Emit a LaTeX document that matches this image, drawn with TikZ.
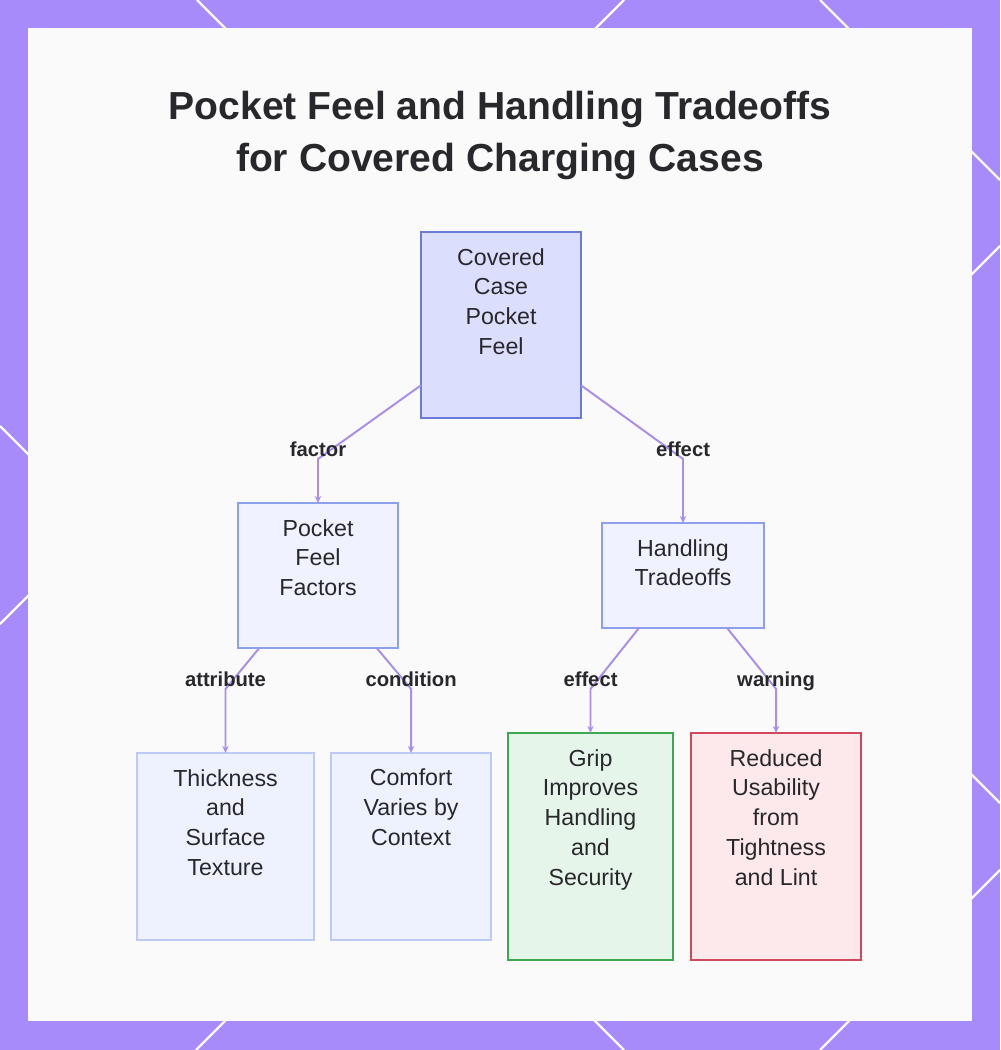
\documentclass[tikz,border=0pt]{standalone}
\usepackage{fontspec}
\setmainfont{Liberation Sans}
\usetikzlibrary{arrows.meta,positioning,calc}

\definecolor{frame}{RGB}{167,139,250}
\definecolor{panel}{RGB}{250,250,251}
\definecolor{ink}{RGB}{40,40,44}
\definecolor{linkc}{RGB}{170,142,236}
\definecolor{rootfill}{RGB}{219,223,253}
\definecolor{rootdraw}{RGB}{108,124,214}
\definecolor{midfill}{RGB}{240,243,255}
\definecolor{middraw}{RGB}{140,160,238}
\definecolor{leaffill}{RGB}{238,242,255}
\definecolor{leafdraw}{RGB}{190,202,245}
\definecolor{goodfill}{RGB}{230,245,233}
\definecolor{gooddraw}{RGB}{62,168,78}
\definecolor{badfill}{RGB}{253,232,235}
\definecolor{baddraw}{RGB}{208,72,92}

\begin{document}
\begin{tikzpicture}[
  x=0.025cm, y=-0.025cm,
  box/.style={draw, line width=1.4pt, inner sep=0pt, outer sep=0pt, minimum width=4cm},
  inside/.style={anchor=north, yshift=-8pt, align=center, text=ink, font=\fontsize{16.5}{21.3}\selectfont},
  link/.style={-{Stealth[length=5pt,width=4.5pt]}, line width=1.4pt, draw=linkc},
  lab/.style={anchor=base, yshift=1.5pt, text=ink, font=\fontsize{14.4}{16}\selectfont\bfseries},
  deco/.style={draw=white, line width=1.6pt}
]
\useasboundingbox (0,0) rectangle (1000,1050);

% frame with lattice lines
\fill[frame] (0,0) rectangle (1000,1050);
\begin{scope}
  \clip (0,0) rectangle (1000,1050);
  \foreach \xa/\ya/\xb/\yb in {197/0/1000/803, 624/0/0/624, 820/0/1000/180,
                               196/1050/1000/246, 624/1050/0/426, 820/1050/1000/870}
    \draw[deco] (\xa,\ya) -- (\xb,\yb);
\end{scope}
\fill[panel] (28,28) rectangle (972,1021);

\node[align=center, text=ink, font=\fontsize{27.8}{37}\selectfont\bfseries] (title) at (500,135)
  {Pocket Feel and Handling Tradeoffs\\for Covered Charging Cases};

% boxes
\node[box, fill=rootfill, draw=rootdraw, minimum height=4.65cm,
  label={[inside]north:Covered\\Case\\Pocket\\Feel}] (root) at (501,325) {};
\node[box, fill=midfill, draw=middraw, minimum height=3.625cm,
  label={[inside]north:Pocket\\Feel\\Factors}] (factors) at (318,575.5) {};
\node[box, fill=midfill, draw=middraw, minimum width=4.05cm, minimum height=2.625cm,
  label={[inside]north:Handling\\Tradeoffs}] (handling) at (683,575.5) {};

\node[box, fill=leaffill, draw=leafdraw, minimum width=4.425cm, minimum height=4.675cm,
  label={[inside]north:Thickness\\and\\Surface\\Texture}] (thick) at (225.5,846.5) {};
\node[box, fill=leaffill, draw=leafdraw, minimum height=4.675cm, right=0.425cm of thick,
  label={[inside]north:Comfort\\Varies by\\Context}] (comfort) {};
\node[box, fill=goodfill, draw=gooddraw, minimum width=4.125cm, minimum height=5.675cm,
  label={[inside]north:Grip\\Improves\\Handling\\and\\Security}] (grip) at (590.5,846.5) {};
\node[box, fill=badfill, draw=baddraw, minimum width=4.25cm, minimum height=5.675cm, right=0.45cm of grip,
  label={[inside]north:Reduced\\Usability\\from\\Tightness\\and Lint}] (reduced) {};

% connectors
\draw[link] (root.217) -- ([yshift=1.1cm]factors.north) node[lab] {factor} -- (factors.north);
\draw[link] (root.323) -- ([yshift=1.6cm]handling.north) node[lab] {effect} -- (handling.north);
\draw[link] (factors.231) -- ([yshift=1.6cm]thick.north) node[lab] {attribute} -- (thick.north);
\draw[link] (factors.309) -- ([yshift=1.6cm]comfort.north) node[lab] {condition} -- (comfort.north);
\draw[link] (handling.230) -- ([yshift=1.1cm]grip.north) node[lab] {effect} -- (grip.north);
\draw[link] (handling.310) -- ([yshift=1.1cm]reduced.north) node[lab] {warning} -- (reduced.north);

\end{tikzpicture}
\end{document}
